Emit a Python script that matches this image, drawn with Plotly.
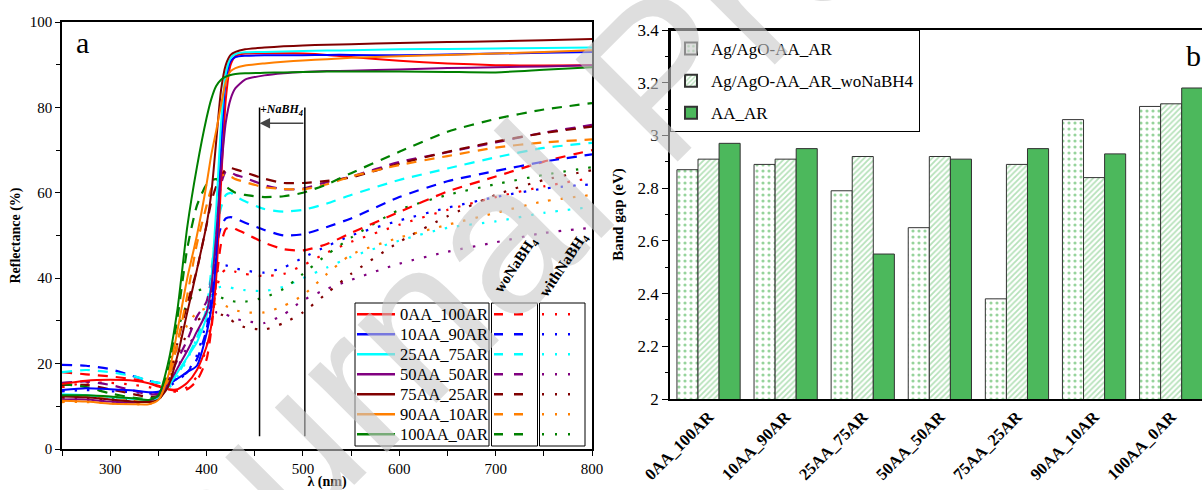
import plotly.graph_objects as go

W, H = 1202, 490
SERIF = "Liberation Serif, Times New Roman, serif"

# ---------------- panel a data ----------------
WL = [250, 275, 300, 325, 340, 350, 360, 370, 380, 390, 400, 405, 410, 415, 420, 425,
      430, 440, 460, 480, 500, 525, 550, 600, 650, 700, 750, 800]

names = ["0AA_100AR", "10AA_90AR", "25AA_75AR", "50AA_50AR", "75AA_25AR", "90AA_10AR", "100AA_0AR"]
colors = ["#ff0000", "#0000ff", "#00ffff", "#800080", "#800000", "#ff7f00", "#008000"]

# AA_AR (solid)
solid_0 = [15.2, 16.0, 16.2, 16.0, 15.4, 14.6, 14.0, 14.0, 15.5, 18.5, 24.0, 29.0, 40.0, 62.0, 82.0, 90.0, 92.0, 92.6, 92.7, 92.7, 92.6, 92.3, 91.8, 90.9, 90.3, 89.9, 89.8, 89.9]
solid_1 = [13.8, 14.2, 14.0, 13.7, 13.3, 13.4, 15.0, 16.5, 18.0, 19.5, 27.0, 33.0, 45.0, 70.0, 86.5, 90.8, 91.8, 92.1, 92.2, 92.2, 92.2, 92.3, 92.3, 92.2, 92.4, 92.6, 92.8, 93.0]
solid_2 = [12.8, 12.6, 12.2, 11.7, 11.5, 12.0, 14.5, 18.0, 21.5, 25.0, 31.0, 40.0, 56.0, 76.0, 88.0, 91.5, 92.5, 92.9, 93.0, 93.1, 93.2, 93.3, 93.4, 93.6, 93.7, 93.8, 93.9, 94.0]
solid_3 = [11.6, 11.6, 11.1, 10.9, 11.3, 12.5, 15.0, 19.0, 23.0, 27.5, 32.0, 38.0, 50.0, 65.0, 76.5, 82.0, 84.5, 86.5, 87.5, 88.0, 88.3, 88.5, 88.6, 88.9, 89.2, 89.4, 89.6, 89.9]
solid_4 = [12.3, 12.1, 11.6, 11.1, 11.0, 11.6, 14.5, 22.0, 32.0, 42.0, 52.5, 60.0, 72.0, 84.0, 90.0, 92.3, 93.0, 93.6, 94.0, 94.3, 94.5, 94.7, 94.8, 95.1, 95.3, 95.5, 95.7, 96.0]
solid_5 = [11.3, 11.1, 10.6, 10.5, 10.5, 11.5, 17.0, 28.0, 40.0, 50.0, 62.0, 69.0, 74.5, 80.5, 86.0, 88.5, 89.2, 89.8, 90.3, 90.7, 91.0, 91.3, 91.6, 92.0, 92.3, 92.6, 93.0, 93.4]
solid_6 = [12.6, 12.6, 12.3, 11.8, 11.5, 12.5, 20.0, 33.0, 52.0, 66.0, 77.5, 82.0, 85.0, 86.5, 87.2, 87.6, 87.8, 88.0, 88.1, 88.2, 88.3, 88.4, 88.4, 88.4, 88.3, 88.2, 88.8, 89.4]

# woNaBH4 (dashed)
wo_0 = [18.0, 17.5, 17.0, 16.3, 15.5, 14.8, 14.0, 13.6, 14.0, 16.0, 21.0, 28.0, 39.0, 48.0, 51.5, 52.0, 51.5, 50.5, 48.3, 46.8, 46.5, 48.0, 50.6, 55.5, 60.3, 63.8, 67.3, 70.0]
wo_1 = [19.7, 19.5, 18.7, 17.0, 16.0, 15.5, 15.5, 16.5, 18.0, 21.0, 28.0, 36.0, 47.0, 52.0, 54.0, 54.3, 54.0, 53.0, 51.3, 50.0, 50.3, 52.0, 54.0, 59.0, 62.7, 65.1, 67.3, 69.0]
wo_2 = [18.0, 18.5, 18.0, 17.0, 16.0, 15.5, 15.5, 17.5, 21.5, 26.0, 33.0, 42.0, 51.0, 56.5, 59.5, 60.0, 59.2, 58.0, 56.2, 55.6, 56.0, 57.5, 59.5, 63.0, 65.7, 68.3, 70.5, 71.7]
wo_3 = [15.5, 15.8, 15.0, 13.6, 12.8, 13.0, 16.0, 21.0, 25.5, 31.0, 34.5, 40.0, 51.0, 62.0, 65.0, 64.8, 64.2, 63.5, 61.8, 60.8, 61.0, 62.5, 63.8, 67.2, 69.5, 71.8, 74.1, 75.9]
wo_4 = [15.0, 15.0, 14.0, 12.8, 12.2, 12.5, 16.0, 25.0, 34.0, 42.0, 52.5, 58.0, 61.5, 64.0, 65.5, 65.8, 65.5, 64.8, 63.3, 62.3, 62.3, 62.8, 63.6, 66.8, 69.6, 72.0, 74.0, 75.5]
wo_5 = [12.5, 12.5, 12.0, 11.5, 11.0, 12.0, 16.0, 25.0, 36.0, 48.0, 57.0, 61.0, 63.0, 64.0, 64.2, 63.8, 63.2, 62.5, 61.3, 60.9, 60.8, 62.0, 63.8, 66.5, 68.6, 70.6, 71.8, 72.5]
wo_6 = [15.2, 14.5, 13.0, 12.0, 11.8, 12.5, 18.0, 31.0, 47.0, 57.0, 62.0, 63.0, 63.2, 62.5, 61.5, 60.7, 60.0, 59.5, 59.0, 59.2, 60.0, 62.0, 64.6, 69.6, 74.3, 77.3, 79.5, 81.0]

# withNaBH4 (dotted)
with_0 = [14.5, 15.5, 15.5, 15.0, 14.5, 14.0, 13.5, 13.5, 14.5, 17.0, 24.0, 30.0, 37.0, 41.0, 42.0, 42.0, 41.5, 41.0, 40.5, 41.0, 43.0, 46.0, 48.5, 52.5, 56.0, 59.0, 61.5, 63.5]
with_1 = [13.5, 13.8, 13.5, 13.3, 13.0, 13.0, 14.5, 16.0, 18.0, 22.0, 30.0, 36.0, 41.0, 43.0, 43.0, 42.7, 42.3, 41.8, 41.3, 42.5, 44.8, 47.5, 50.0, 53.5, 56.5, 59.0, 61.0, 62.0]
with_2 = [12.5, 12.2, 11.8, 11.3, 11.3, 12.0, 14.0, 17.0, 21.0, 26.0, 33.0, 36.0, 37.5, 38.0, 38.0, 37.8, 37.5, 37.2, 37.0, 38.0, 40.0, 42.5, 45.0, 48.8, 51.8, 53.3, 55.3, 56.7]
with_3 = [11.3, 11.3, 11.0, 10.8, 11.3, 12.0, 14.5, 19.0, 24.0, 27.0, 30.0, 31.0, 32.0, 32.0, 31.5, 31.0, 30.5, 30.0, 29.5, 31.5, 34.8, 37.5, 39.6, 43.4, 46.2, 48.4, 50.6, 51.8]
with_4 = [12.0, 11.8, 11.3, 10.8, 10.8, 11.5, 15.0, 22.0, 27.0, 30.0, 31.5, 32.0, 32.0, 31.5, 31.0, 30.3, 29.5, 28.5, 28.0, 29.5, 32.0, 36.5, 41.0, 48.5, 54.5, 59.5, 63.0, 65.3]
with_5 = [11.0, 11.0, 10.7, 10.5, 10.5, 11.5, 16.0, 24.0, 29.0, 32.0, 33.0, 33.5, 34.0, 34.0, 33.5, 33.0, 32.5, 32.0, 32.0, 33.5, 36.0, 41.0, 45.5, 49.5, 52.5, 55.3, 58.0, 59.5]
with_6 = [12.5, 12.3, 12.0, 11.5, 11.3, 12.5, 19.0, 28.0, 34.0, 37.0, 37.5, 37.0, 36.0, 35.5, 35.0, 34.7, 34.5, 34.5, 35.5, 37.5, 41.0, 45.5, 49.5, 56.0, 59.5, 62.0, 64.2, 66.0]

solid = [solid_0, solid_1, solid_2, solid_3, solid_4, solid_5, solid_6]
wo = [wo_0, wo_1, wo_2, wo_3, wo_4, wo_5, wo_6]
withb = [with_0, with_1, with_2, with_3, with_4, with_5, with_6]

# ---------------- panel b data ----------------
samples = names
gap_AgAgO = [2.87, 2.89, 2.79, 2.65, 2.38, 3.06, 3.11]
gap_woNaBH4 = [2.91, 2.91, 2.92, 2.92, 2.89, 2.84, 3.12]
gap_AA_AR = [2.97, 2.95, 2.55, 2.91, 2.95, 2.93, 3.18]
bar_names = ["Ag/AgO-AA_AR", "Ag/AgO-AA_AR_woNaBH4", "AA_AR"]

DASH = "10px,8px"
DOT = "2.5px,10px"

fig = go.Figure()

for i in range(7):
    fig.add_trace(go.Scatter(x=WL, y=withb[i], mode="lines", xaxis="x", yaxis="y",
                             line=dict(color=colors[i], width=2.2, dash=DOT, shape="spline", smoothing=0.6),
                             showlegend=False, hoverinfo="skip"))
for i in range(7):
    fig.add_trace(go.Scatter(x=WL, y=wo[i], mode="lines", xaxis="x", yaxis="y",
                             line=dict(color=colors[i], width=2.2, dash=DASH, shape="spline", smoothing=0.6),
                             showlegend=False, hoverinfo="skip"))
for i in range(7):
    fig.add_trace(go.Scatter(x=WL, y=solid[i], mode="lines", xaxis="x", yaxis="y",
                             line=dict(color=colors[i], width=2, shape="spline", smoothing=0.6),
                             showlegend=False, hoverinfo="skip"))

GREEN = "#4cb85c"
fig.add_trace(go.Bar(x=samples, y=gap_AgAgO, name=bar_names[0], xaxis="x2", yaxis="y2",
                     legendgroup="g1",
                     marker=dict(color="white", line=dict(color="#333333", width=1),
                                 pattern=dict(shape=".", fgcolor="#2fa83a", bgcolor="white", size=6, solidity=0.22))))
fig.add_trace(go.Bar(x=samples, y=gap_woNaBH4, name=bar_names[1], xaxis="x2", yaxis="y2",
                     legendgroup="g2",
                     marker=dict(color="white", line=dict(color="#333333", width=1),
                                 pattern=dict(shape="/", fgcolor="#6cc474", bgcolor="white", size=4, solidity=0.45))))
fig.add_trace(go.Bar(x=samples, y=gap_AA_AR, name=bar_names[2], xaxis="x2", yaxis="y2",
                     legendgroup="g3",
                     marker=dict(color=GREEN, line=dict(color="#333333", width=1))))


def px(x):
    return x / W


def py(y):
    return 1 - y / H


shapes = []
annotations = []

# watermark (drawn first so other texts stay on top)
annotations.append(dict(xref="paper", yref="paper", x=px(659), y=py(77), xanchor="center", yanchor="middle",
                        text="Journal Pre-proof", showarrow=False, textangle=-45,
                        font=dict(family="Liberation Sans, Arial, sans-serif", size=210,
                                  color="rgba(200,200,200,0.6)")))

# NaBH4 marker lines and arrow (data coords of panel a)
for lam in (455, 502):
    shapes.append(dict(type="line", xref="x", yref="y", x0=lam, x1=lam, y0=3, y1=80,
                       line=dict(color="black", width=1.5)))
annotations.append(dict(xref="x", yref="y", axref="x", ayref="y", x=455, y=76.3, ax=502, ay=76.3,
                        text="", showarrow=True, arrowhead=2, arrowsize=1.4, arrowwidth=1.5,
                        arrowcolor="#444444"))
annotations.append(dict(xref="x", yref="y", x=478, y=79.5, xanchor="center", yanchor="middle",
                        text="<b><i>+NaBH<sub>4</sub></i></b>",
                        showarrow=False, font=dict(family=SERIF, size=12, color="black")))

# manual legend for panel a
box_top, box_bot = 303, 446
for (x0, x1) in [(355, 489), (491.5, 537.5), (539.5, 585)]:
    shapes.append(dict(type="rect", xref="paper", yref="paper", x0=px(x0), x1=px(x1),
                       y0=py(box_bot), y1=py(box_top), line=dict(color="black", width=1),
                       fillcolor="white", layer="above"))
for i in range(7):
    yc = 314.3 + 20 * i
    shapes.append(dict(type="line", xref="paper", yref="paper", x0=px(357), x1=px(395),
                       y0=py(yc), y1=py(yc), line=dict(color=colors[i], width=2.5), layer="above"))
    shapes.append(dict(type="line", xref="paper", yref="paper", x0=px(494), x1=px(528),
                       y0=py(yc), y1=py(yc), line=dict(color=colors[i], width=2.5, dash="9px,11px"),
                       layer="above"))
    shapes.append(dict(type="line", xref="paper", yref="paper", x0=px(542), x1=px(572),
                       y0=py(yc), y1=py(yc), line=dict(color=colors[i], width=2.5, dash="2px,11px"),
                       layer="above"))
    annotations.append(dict(xref="paper", yref="paper", x=px(398), y=py(yc), xanchor="left",
                            yanchor="middle", text=names[i], showarrow=False,
                            font=dict(family=SERIF, size=16.5, color="black")))

annotations.append(dict(xref="paper", yref="paper", x=px(516), y=py(265), xanchor="center", yanchor="middle",
                        text="<b>woNaBH<sub>4</sub></b>",
                        showarrow=False, textangle=-56, font=dict(family=SERIF, size=15, color="black")))
annotations.append(dict(xref="paper", yref="paper", x=px(564), y=py(265), xanchor="center", yanchor="middle",
                        text="<b>withNaBH<sub>4</sub></b>",
                        showarrow=False, textangle=-56, font=dict(family=SERIF, size=15, color="black")))

# panel letters
annotations.append(dict(xref="paper", yref="paper", x=px(82), y=py(43), xanchor="center", yanchor="middle",
                        text="a", showarrow=False, font=dict(family=SERIF, size=30, color="black")))
annotations.append(dict(xref="paper", yref="paper", x=px(1193), y=py(55), xanchor="center", yanchor="middle",
                        text="b", showarrow=False, font=dict(family=SERIF, size=30, color="black")))

fig.update_layout(
    width=W, height=H,
    margin=dict(l=0, r=0, t=0, b=0),
    paper_bgcolor="white", plot_bgcolor="white",
    barmode="group", bargap=0.18, bargroupgap=0,
    shapes=shapes, annotations=annotations,
    xaxis=dict(domain=[px(62), px(592)], range=[250, 800], tick0=0, dtick=100, automargin=False,
               ticks="outside", ticklen=5, tickwidth=1, tickcolor="black",
               minor=dict(dtick=50, ticks="outside", ticklen=5, tickcolor="black"),
               showline=True, linecolor="black", linewidth=1.5, mirror=True, showgrid=False, zeroline=False,
               tickfont=dict(family=SERIF, size=15, color="black"),
               title=dict(text="<b>λ (nm)</b>", font=dict(family=SERIF, size=14, color="black"), standoff=4)),
    yaxis=dict(domain=[py(449), py(22)], range=[0, 100], dtick=20, automargin=False,
               ticks="outside", ticklen=5, tickwidth=1, tickcolor="black",
               minor=dict(dtick=10, ticks="outside", ticklen=4, tickcolor="black"),
               showline=True, linecolor="black", linewidth=1.5, mirror=True, showgrid=False, zeroline=False,
               tickfont=dict(family=SERIF, size=15, color="black"),
               title=dict(text="<b>Reflectance (%)</b>", font=dict(family=SERIF, size=14, color="black"), standoff=6)),
    xaxis2=dict(domain=[px(670), 1.0], anchor="y2", type="category", range=[-0.5, 6.4], automargin=False,
                showline=True, linecolor="black", linewidth=1.5, mirror=True, ticks="", showgrid=False,
                tickangle=-45, tickfont=dict(family=SERIF, size=16.5, color="black", weight="bold")),
    yaxis2=dict(domain=[py(399), py(30)], anchor="x2", range=[2, 3.4], dtick=0.2, automargin=False,
                ticks="outside", ticklen=6, tickwidth=1, tickcolor="black",
                minor=dict(dtick=0.1, ticks="outside", ticklen=3, tickcolor="black"),
                showline=True, linecolor="black", linewidth=1.5, showgrid=False, zeroline=False,
                tickfont=dict(family=SERIF, size=17, color="black"),
                title=dict(text="<b>Band gap (eV)</b>", font=dict(family=SERIF, size=15, color="black"), standoff=10)),
    legend=dict(x=px(670), y=py(30), xanchor="left", yanchor="top", bgcolor="white",
                bordercolor="black", borderwidth=1, tracegroupgap=7,
                font=dict(family=SERIF, size=17, color="black"), itemsizing="constant"),
)

fig.write_html("out.html")
